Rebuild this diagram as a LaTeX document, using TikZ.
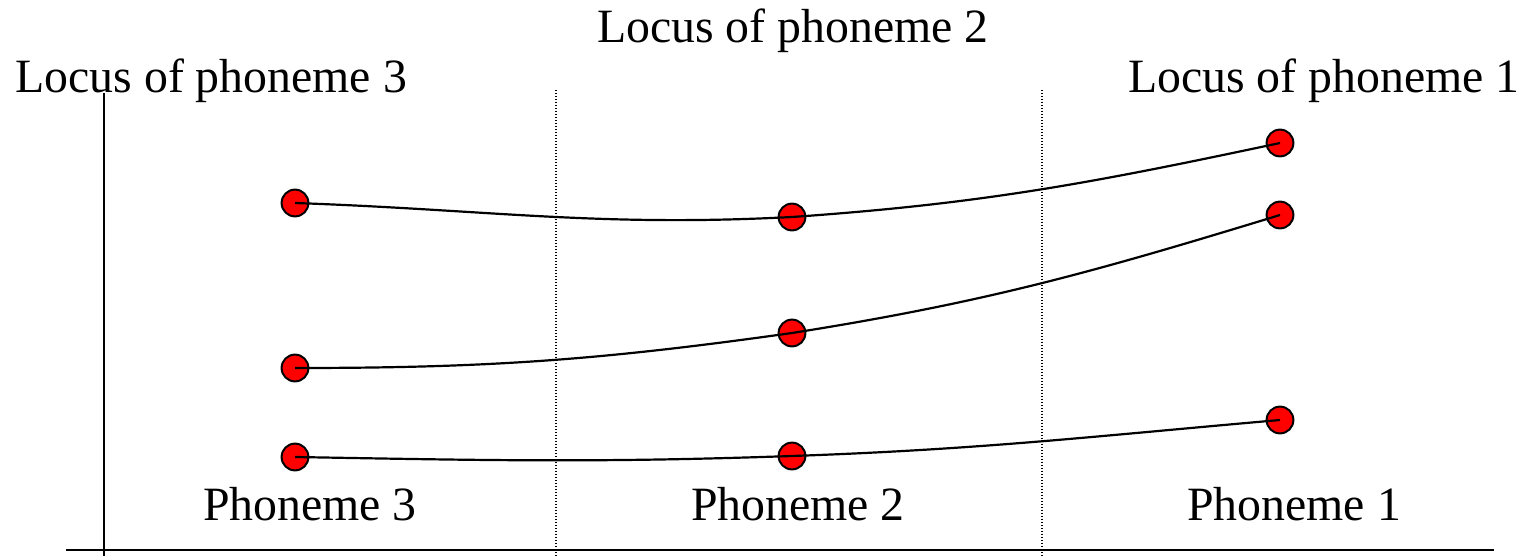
\documentclass[tikz,border=0pt]{standalone}
\usepackage{fontspec}
\setmainfont{Liberation Serif}
\usetikzlibrary{positioning}
\tikzset{
  label text/.style={inner sep=0pt, font=\fontsize{23.9}{28}\selectfont},
}

\begin{document}
\begin{tikzpicture}[
  x=0.5pt, y=0.5pt,
  dot/.style={circle, draw, line width=1pt, fill=red, inner sep=0pt, minimum size=13.4pt},
  track/.style={line width=1.1pt},
  axis/.style={line width=1.2pt},
  divider/.style={line width=0.8pt, dash pattern=on 0.7pt off 0.8pt}
]
\useasboundingbox (0,0) rectangle (1526,-556);
% axes
\coordinate (ytop) at (104,-93);
\coordinate (ybot) at (104,-556);
\coordinate (xleft) at (66,-550);
\coordinate (xright) at (1494,-550);
\draw[axis] (ytop) -- (ybot);
\draw[axis] (xleft) -- (xright);
% segment boundaries
\coordinate (d1top) at (556,-90);
\coordinate (d1bot) at (556,-556);
\coordinate (d2top) at (1042,-90);
\coordinate (d2bot) at (1042,-556);
\draw[divider] (d1top) -- (d1bot);
\draw[divider] (d2top) -- (d2bot);
% labels
\node[label text, anchor=base] (loc2) at (793,-43) {Locus of phoneme 2};
\node[label text, anchor=base west] (loc3) at (15,-93) {Locus of phoneme 3};
\node[label text, anchor=base east] (loc1) at (1520,-93) {Locus of phoneme 1};
\node[label text, anchor=base] (ph3) at (310,-520) {Phoneme 3};
\node[label text, anchor=base] (ph2) at (798,-520) {Phoneme 2};
\node[label text, anchor=base] (ph1) at (1294,-520) {Phoneme 1};
% formant targets
\node[dot] (l1) at (295,-203) {};
\node[dot] (l2) at (295,-368) {};
\node[dot] (l3) at (295,-457) {};
\node[dot] (m1) at (792,-217) {};
\node[dot] (m2) at (792,-333) {};
\node[dot] (m3) at (792,-456) {};
\node[dot] (r1) at (1280,-143) {};
\node[dot] (r2) at (1280,-215) {};
\node[dot] (r3) at (1280,-420) {};
% trajectories
\draw[track] (l1.center) to[out=-2,in=183] (m1.center) to[out=4,in=192] (r1.center);
\draw[track] (l2.center) to[out=0,in=188] (m2.center) to[out=9,in=197] (r2.center);
\draw[track] (l3.center) to[out=-1,in=182] (m3.center) to[out=2,in=185] (r3.center);
\end{tikzpicture}
\end{document}
